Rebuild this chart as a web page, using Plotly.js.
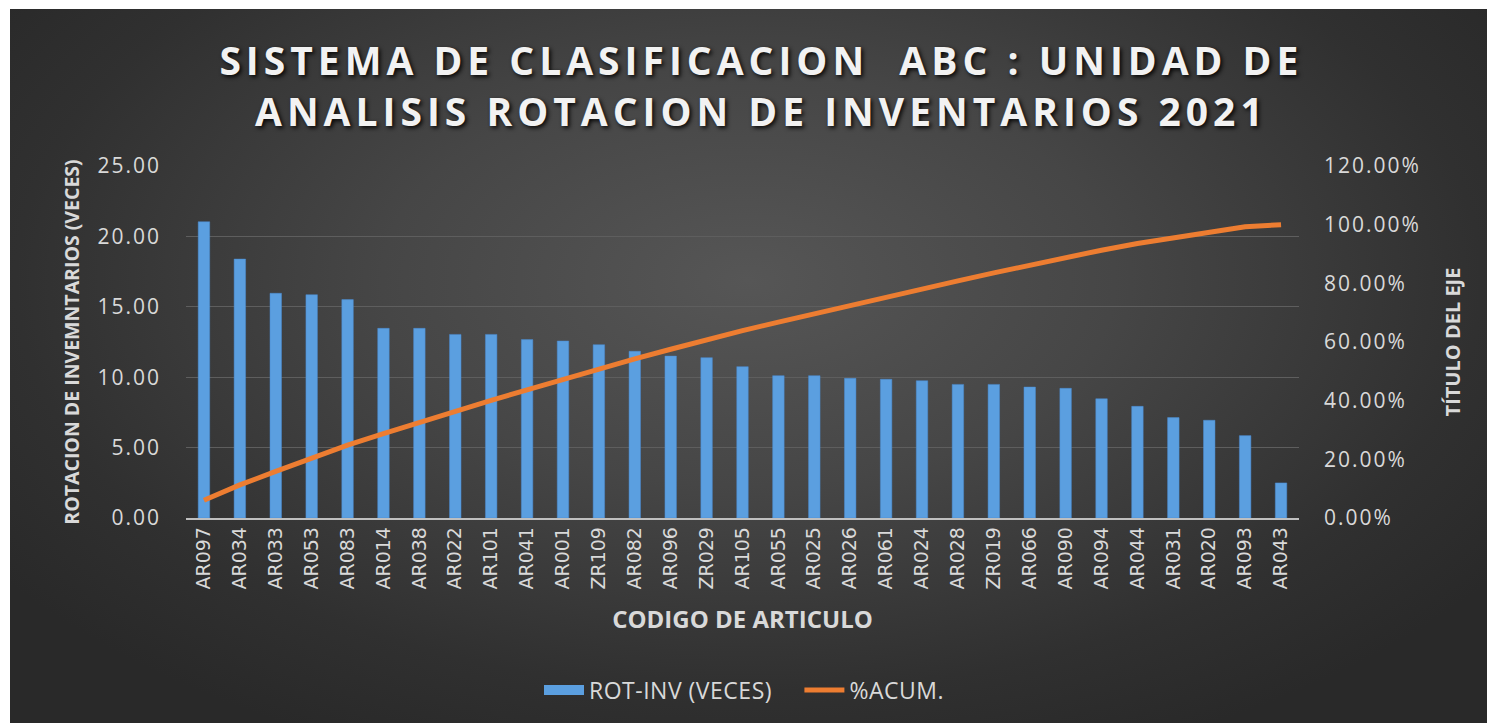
<!DOCTYPE html>
<html><head><meta charset="utf-8">
<script src="https://cdn.plot.ly/plotly-3.0.1.min.js"></script>
<style>
html,body{margin:0;padding:0;background:#fff;overflow:hidden;}
#bg{position:absolute;left:10px;top:9px;width:1477px;height:714px;
  background:radial-gradient(ellipse 62% 72% at 50% 38%, #565656 0%, #464646 40%, #303030 80%, #292929 100%);}
#chart{position:absolute;left:0;top:0;width:1487px;height:723px;}
#chart .gtitle{letter-spacing:5px;}
#chart .ytick text, #chart .y2tick text{letter-spacing:2px;}
#chart .legendtext{letter-spacing:0.5px;}
</style></head><body>
<div id="bg"></div><div id="chart"></div>
<script>
const categories = ["AR097","AR034","AR033","AR053","AR083","AR014","AR038","AR022","AR101","AR041","AR001","ZR109","AR082","AR096","ZR029","AR105","AR055","AR025","AR026","AR061","AR024","AR028","ZR019","AR066","AR090","AR094","AR044","AR031","AR020","AR093","AR043"];
const rotInv = [21.04,18.39,15.96,15.86,15.51,13.47,13.47,13.04,13.04,12.67,12.57,12.31,11.84,11.50,11.39,10.75,10.11,10.11,9.92,9.85,9.75,9.49,9.49,9.30,9.21,8.47,7.93,7.13,6.94,5.85,2.49];
const pctAcum = [0.0603,0.1130,0.1588,0.2042,0.2487,0.2873,0.3259,0.3633,0.4007,0.4370,0.4730,0.5083,0.5423,0.5752,0.6079,0.6387,0.6677,0.6967,0.7251,0.7533,0.7813,0.8085,0.8357,0.8624,0.8888,0.9130,0.9358,0.9562,0.9761,0.9929,1.0000];
const yTickVals = [0,5,10,15,20,25];
const y2TickVals = [0,0.2,0.4,0.6,0.8,1.0,1.2];

const txt = '#d9d9d9';
const barColor = '#5b9fe0';
const pad = '\u00a0\u00a0\u00a0\u00a0\u00a0';
const traces = [
  {type:'bar', name:'ROT-INV (VECES)', x:categories, y:rotInv, showlegend:false,
   marker:{color:barColor, line:{color:'#4a8bd0', width:0.5}}},
  {type:'scatter', mode:'lines', name:'ROT-INV (VECES)' + pad, x:[categories[0]], y:[null], showlegend:true,
   line:{color:barColor, width:12}, hoverinfo:'skip'},
  {type:'scatter', mode:'lines', name:'%ACUM.', x:categories, y:pctAcum, yaxis:'y2',
   line:{color:'#ED7D31', width:5}}
];
const layout = {
  width:1487, height:723,
  paper_bgcolor:'rgba(0,0,0,0)', plot_bgcolor:'rgba(0,0,0,0)',
  margin:{l:186, r:188, t:166, b:205},
  bargap:0.68,
  showlegend:true,
  title:{text:'SISTEMA DE CLASIFICACION  ABC : UNIDAD DE<br>ANALISIS ROTACION DE INVENTARIOS 2021',
    xref:'container', x:0.512, xanchor:'center', yref:'container', y:0.896, yanchor:'top',
    font:{family:'Open Sans', size:39, color:'#f2f2f2', weight:700, shadow:'2px 2px 4px rgba(0,0,0,0.9)'}},
  xaxis:{type:'category', tickangle:-90, showgrid:false, zeroline:false,
    showline:true, linecolor:'#bfbfbf', linewidth:1.5, ticks:'',
    tickfont:{family:'DejaVu Sans', size:19, color:txt},
    title:{text:'CODIGO DE ARTICULO', standoff:22, font:{family:'Open Sans', size:24, color:txt, weight:700}}},
  yaxis:{range:[0,25], tickvals:yTickVals, tickformat:'.2f', showgrid:true, gridcolor:'#5e5e5e', gridwidth:1,
    zeroline:false, showline:false, ticks:'', ticklabelstandoff:24,
    tickfont:{family:'Open Sans', size:21, color:txt},
    title:{text:'ROTACION DE INVEMNTARIOS (VECES)', standoff:22, font:{family:'Open Sans', size:19.5, color:txt, weight:700}}},
  yaxis2:{range:[0,1.2], tickvals:y2TickVals, tickformat:'.2%', overlaying:'y', side:'right', showgrid:false,
    zeroline:false, showline:false, ticks:'', ticklabelstandoff:24,
    tickfont:{family:'Open Sans', size:21, color:txt},
    title:{text:'TÍTULO DEL EJE', standoff:40, font:{family:'Open Sans', size:20, color:txt, weight:700}}},
  legend:{orientation:'h', x:0.5, xanchor:'center', y:-0.489, yanchor:'middle',
    font:{family:'Open Sans', size:23, color:txt}, itemwidth:40, bgcolor:'rgba(0,0,0,0)'}
};
Plotly.newPlot('chart', traces, layout, {displayModeBar:false, staticPlot:true});
</script>
</body></html>
